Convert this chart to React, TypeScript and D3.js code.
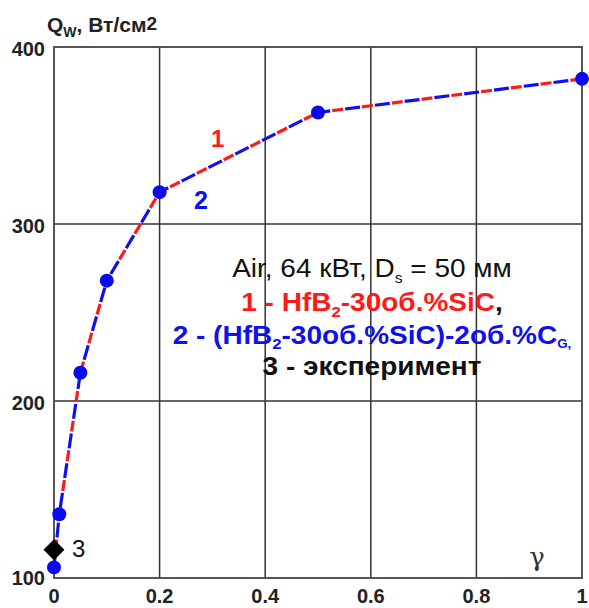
import React, { useRef, useEffect } from "react";
import * as d3 from "d3";

// computed curve (1 and 2 coincide) and blue markers
const gammaValues = [0, 0.01, 0.05, 0.1, 0.2, 0.5, 1];
const qwValues = [106, 136, 216, 268, 318, 363, 382];
// experiment
const expGamma = [0];
const expQw = [116];

const xTicks = [0, 0.2, 0.4, 0.6, 0.8, 1];
const yTicks = [100, 200, 300, 400];

const W = 589;
const H = 608;

const App = () => {
  const svgRef = useRef<SVGSVGElement>(null);

  useEffect(() => {
    const svg = d3.select(svgRef.current);
    svg.selectAll("*").remove();

    const margin = { top: 47, right: 7, bottom: 30, left: 54 };
    const x = d3.scaleLinear().domain([0, 1]).range([margin.left, W - margin.right]);
    const y = d3.scaleLinear().domain([100, 400]).range([H - margin.bottom, margin.top]);
    const font = "'Liberation Sans', Arial, sans-serif";

    svg.append("rect").attr("width", W).attr("height", H).attr("fill", "#fff");

    // grid
    svg.append("g")
      .selectAll("line.vx")
      .data(xTicks.slice(1, -1))
      .join("line")
      .attr("x1", d => x(d)).attr("x2", d => x(d))
      .attr("y1", y(100)).attr("y2", y(400))
      .attr("stroke", "#333").attr("stroke-width", 1.5);
    svg.append("g")
      .selectAll("line.hy")
      .data(yTicks.slice(1, -1))
      .join("line")
      .attr("x1", x(0)).attr("x2", x(1))
      .attr("y1", d => y(d)).attr("y2", d => y(d))
      .attr("stroke", "#333").attr("stroke-width", 1.5);

    // frame
    svg.append("rect")
      .attr("x", x(0)).attr("y", y(400))
      .attr("width", x(1) - x(0)).attr("height", y(100) - y(400))
      .attr("fill", "none").attr("stroke", "#444").attr("stroke-width", 1.8);

    // tick labels
    svg.append("g")
      .selectAll("text")
      .data(yTicks)
      .join("text")
      .attr("x", 45)
      .attr("y", d => y(d) + (d === 100 ? 7 : 9))
      .attr("text-anchor", "end")
      .attr("font-family", font).attr("font-weight", "bold").attr("font-size", 20)
      .attr("fill", "#222")
      .text(d => d);
    svg.append("g")
      .selectAll("text")
      .data(xTicks)
      .join("text")
      .attr("x", d => x(d))
      .attr("y", 603)
      .attr("text-anchor", "middle")
      .attr("font-family", font).attr("font-weight", "bold").attr("font-size", 20)
      .attr("fill", "#222")
      .text(d => (d === 0 || d === 1 ? String(d) : d.toFixed(1)));

    // axis titles
    const yt = svg.append("text")
      .attr("x", 47).attr("y", 32)
      .attr("font-family", font).attr("font-weight", "bold").attr("font-size", 21)
      .attr("fill", "#222");
    yt.append("tspan").text("Q");
    yt.append("tspan").attr("font-size", 14).attr("dy", 5).text("W");
    yt.append("tspan").attr("dy", -5).text(", Вт/см");
    yt.append("tspan").attr("font-size", 19).attr("dy", -2).text("2");

    svg.append("text")
      .attr("x", 537).attr("y", 566)
      .attr("text-anchor", "middle")
      .attr("font-family", "'DejaVu Serif', serif").attr("font-size", 26)
      .attr("fill", "#333")
      .text("γ");

    const pts = gammaValues.map((g, i) => [g, qwValues[i]] as [number, number]);
    const line = d3.line<[number, number]>().x(d => x(d[0])).y(d => y(d[1]));

    svg.append("path")
      .attr("d", line(pts))
      .attr("fill", "none").attr("stroke", "#ff1a1a").attr("stroke-width", 3.2)
      .attr("stroke-dasharray", "11 19").attr("stroke-dashoffset", -17);
    svg.append("path")
      .attr("d", line(pts))
      .attr("fill", "none").attr("stroke", "#1010ee").attr("stroke-width", 3.2)
      .attr("stroke-dasharray", "15 15");

    svg.append("g")
      .selectAll("circle")
      .data(pts)
      .join("circle")
      .attr("cx", d => x(d[0])).attr("cy", d => y(d[1]))
      .attr("r", 7)
      .attr("fill", "#0a0aee");

    // experiment diamond
    svg.append("g")
      .selectAll("path")
      .data(expGamma.map((g, i) => [g, expQw[i]]))
      .join("path")
      .attr("d", d3.symbol(d3.symbolDiamond2, 280)())
      .attr("transform", d => `translate(${x(d[0])},${y(d[1])})`)
      .attr("fill", "#000");

    svg.append("text")
      .attr("x", 72).attr("y", 557)
      .attr("font-family", font).attr("font-size", 24).attr("fill", "#111")
      .text("3");

    // curve labels
    svg.append("text")
      .attr("x", 211).attr("y", 147)
      .attr("font-family", font).attr("font-weight", "bold").attr("font-size", 24)
      .attr("fill", "#ff1a1a").text("1");
    svg.append("text")
      .attr("x", 194).attr("y", 209)
      .attr("font-family", font).attr("font-weight", "bold").attr("font-size", 25)
      .attr("fill", "#1010ee").text("2");

    // legend block, slightly stretched horizontally as in the original
    const cx = 372;
    const leg = svg.append("g").attr("transform", `translate(${cx},0) scale(1.12,1)`);
    const l0 = leg.append("text")
      .attr("x", 0).attr("y", 277).attr("text-anchor", "middle")
      .attr("font-family", font).attr("font-size", 25).attr("fill", "#111");
    l0.append("tspan").text("Air, 64 кВт, D");
    l0.append("tspan").attr("font-size", 14).attr("dy", 6).text("s");
    l0.append("tspan").attr("dy", -6).text(" = 50 мм");

    const l1 = leg.append("text")
      .attr("x", 0).attr("y", 311).attr("text-anchor", "middle")
      .attr("font-family", font).attr("font-weight", "bold").attr("font-size", 25).attr("fill", "#ff1a1a");
    l1.append("tspan").text("1 - HfB");
    l1.append("tspan").attr("font-size", 15).attr("dy", 6).text("2");
    l1.append("tspan").attr("dy", -6).text("-30об.%SiC");
    l1.append("tspan").attr("fill", "#111").text(",");

    const l2 = leg.append("text")
      .attr("x", 0).attr("y", 344).attr("text-anchor", "middle")
      .attr("font-family", font).attr("font-weight", "bold").attr("font-size", 25).attr("fill", "#1010ee");
    l2.append("tspan").text("2 - (HfB");
    l2.append("tspan").attr("font-size", 15).attr("dy", 5).text("2");
    l2.append("tspan").attr("dy", -5).text("-30об.%SiC)-2об.%C");
    l2.append("tspan").attr("font-size", 12).attr("dy", 4).text("G,");

    leg.append("text")
      .attr("x", 0).attr("y", 375).attr("text-anchor", "middle")
      .attr("font-family", font).attr("font-weight", "bold").attr("font-size", 25).attr("fill", "#111")
      .text("3 - эксперимент");
  }, []);

  return (
    <svg
      ref={svgRef}
      width={W}
      height={H}
      style={{ position: "absolute", left: 0, top: 0, background: "#fff" }}
    />
  );
};

export default App;
